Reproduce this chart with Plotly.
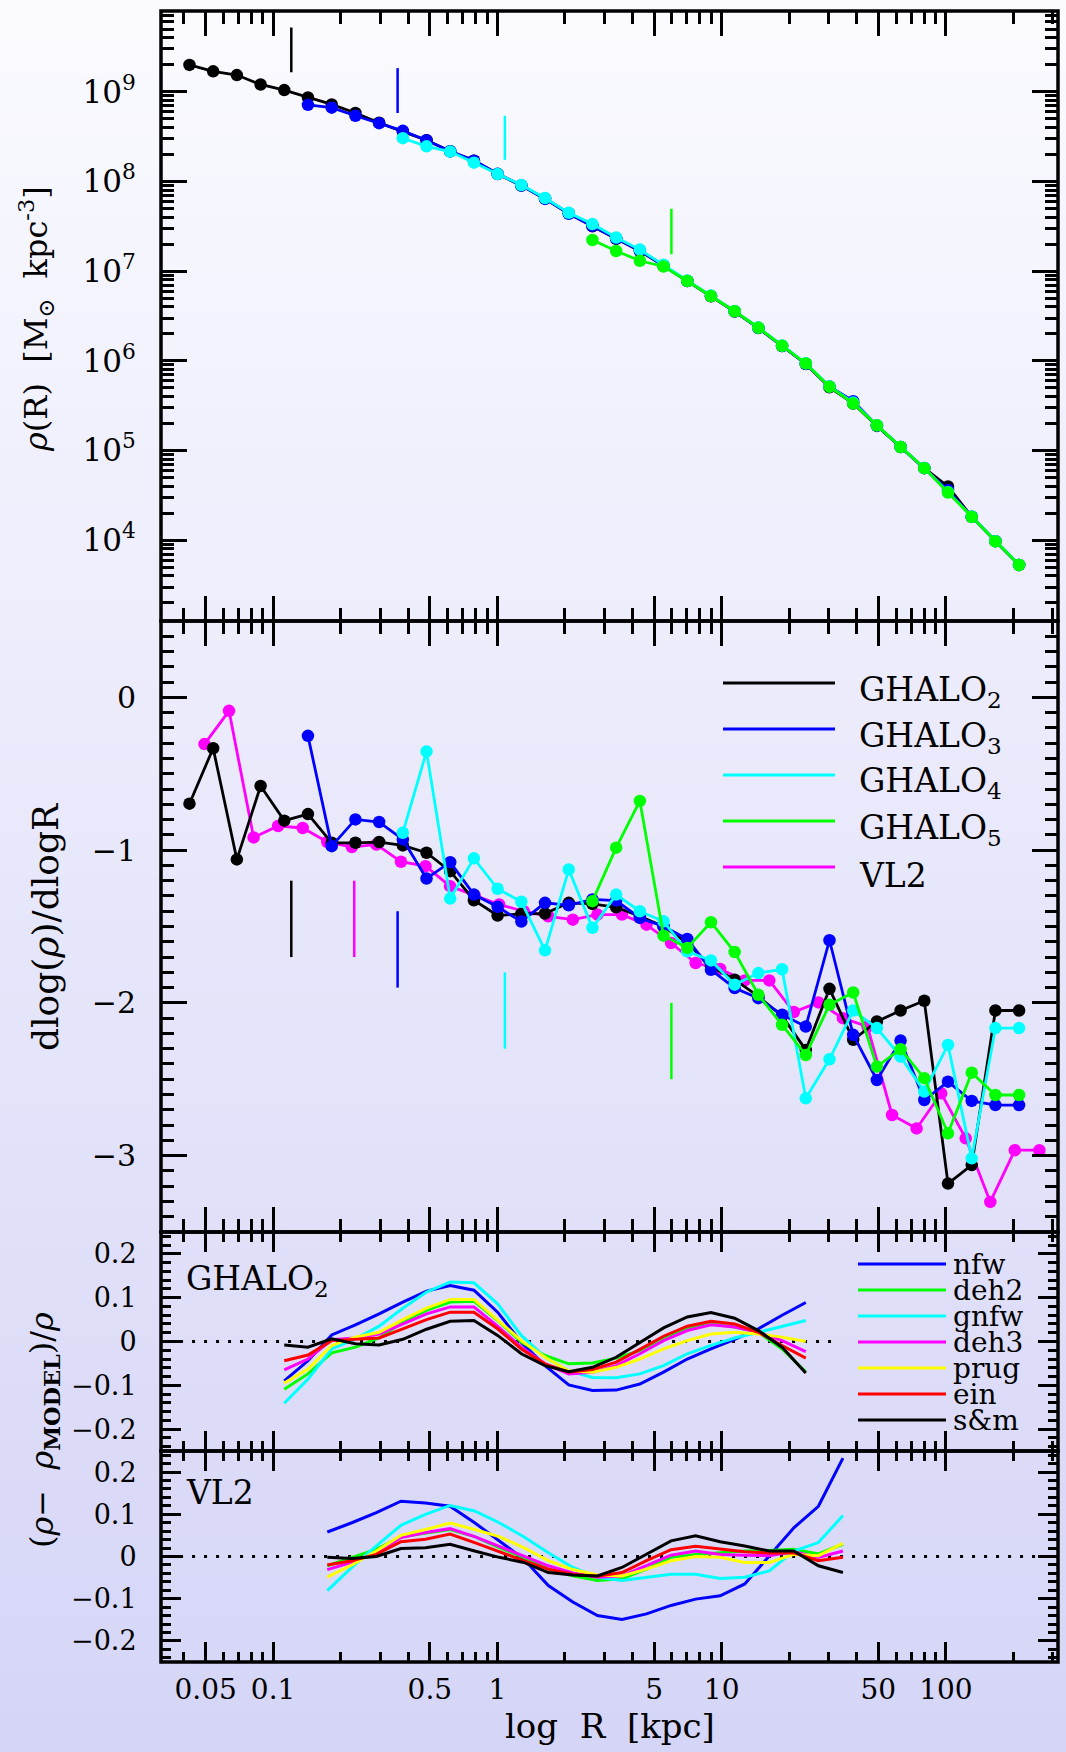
import numpy as np
import plotly.graph_objects as go

# ---------------------------------------------------------------- data
# radial bins [kpc]
r_ghalo = [0.04236, 0.05402, 0.06892, 0.08793, 0.1121, 0.1430, 0.1825, 0.2328, 0.2970, 0.3788,
           0.4831, 0.6162, 0.7860, 1.0025, 1.279, 1.631, 2.081, 2.654, 3.386, 4.319,
           5.508, 7.027, 8.963, 11.43, 14.58, 18.60, 23.73, 30.27, 38.61, 49.25,
           62.81, 80.12, 102.2, 130.4, 166.3, 212.1]
r_vl2 = [0.04943, 0.06359, 0.08185, 0.1053, 0.1355, 0.1744, 0.2244, 0.2886, 0.3715, 0.4781,
         0.6152, 0.7917, 1.0186, 1.311, 1.687, 2.170, 2.793, 3.594, 4.624, 5.950,
         7.656, 9.851, 12.68, 16.31, 20.99, 27.01, 34.75, 44.72, 57.54, 74.05,
         95.28, 122.6, 157.8, 203.0, 261.2]

# first radial bin used by each GHALO run
first_bin = {"GHALO2": 0, "GHALO3": 5, "GHALO4": 9, "GHALO5": 17}

# log10 density [Msun kpc^-3]
log_rho_ghalo2 = [9.299, 9.227, 9.186, 9.081, 9.018, 8.936, 8.859, 8.763, 8.654, 8.555,
                  8.459, 8.337, 8.232, 8.082, 7.955, 7.810, 7.646, 7.500, 7.360, 7.225,
                  7.060, 6.890, 6.720, 6.550, 6.365, 6.165, 5.965, 5.705, 5.525, 5.275,
                  5.040, 4.804, 4.600, 4.262, 3.990, 3.725]
log_rho_ghalo3 = [8.854, 8.822, 8.732, 8.650, 8.564, 8.459, 8.337, 8.232, 8.085, 7.955,
                  7.805, 7.640, 7.505, 7.365, 7.228, 7.062, 6.890, 6.722, 6.552, 6.368,
                  6.165, 5.968, 5.715, 5.550, 5.280, 5.040, 4.805, 4.560, 4.262, 3.990,
                  3.725]
log_rho_ghalo4 = [8.482, 8.391, 8.333, 8.209, 8.082, 7.960, 7.815, 7.650, 7.525, 7.375,
                  7.240, 7.070, 6.895, 6.728, 6.555, 6.372, 6.170, 5.972, 5.715, 5.535,
                  5.282, 5.040, 4.805, 4.535, 4.265, 3.990, 3.725]
log_rho_ghalo5 = [7.347, 7.225, 7.116, 7.052, 6.890, 6.722, 6.553, 6.370, 6.167, 5.971,
                  5.712, 5.525, 5.281, 5.040, 4.804, 4.532, 4.259, 3.987, 3.724]

# logarithmic slope dlog(rho)/dlogR
slope_ghalo2 = [-0.696, -0.333, -1.061, -0.580, -0.807, -0.764, -0.952, -0.952, -0.947, -0.969,
                -1.017, -1.138, -1.328, -1.428, -1.418, -1.415, -1.345, -1.352, -1.374, -1.433,
                -1.500, -1.608, -1.761, -1.848, -1.958, -2.085, -2.308, -1.908, -2.242, -2.122,
                -2.050, -1.986, -3.183, -3.062, -2.050, -2.050]
slope_ghalo3 = [-0.252, -0.974, -0.799, -0.816, -0.930, -1.186, -1.079, -1.291, -1.371, -1.468,
                -1.345, -1.361, -1.323, -1.330, -1.444, -1.499, -1.582, -1.783, -1.903, -1.969,
                -2.078, -2.155, -1.590, -2.209, -2.505, -2.247, -2.636, -2.516, -2.642, -2.669,
                -2.669]
slope_ghalo4 = [-0.886, -0.354, -1.317, -1.054, -1.253, -1.338, -1.656, -1.127, -1.509, -1.291,
                -1.400, -1.466, -1.663, -1.722, -1.881, -1.805, -1.780, -2.625, -2.369, -2.050,
                -2.165, -2.352, -2.581, -2.275, -3.018, -2.165, -2.165]
slope_ghalo5 = [-1.334, -0.984, -0.678, -1.560, -1.640, -1.472, -1.667, -1.947, -2.144, -2.341,
                -2.012, -1.932, -2.417, -2.303, -2.493, -2.854, -2.457, -2.603, -2.603]
slope_vl2 = [-0.306, -0.088, -0.917, -0.842, -0.855, -0.947, -0.980, -0.963, -1.076, -1.105,
             -1.236, -1.297, -1.356, -1.400, -1.433, -1.455, -1.422, -1.422, -1.488, -1.608,
             -1.739, -1.778, -1.853, -1.853, -2.060, -1.997, -2.100, -2.155, -2.734, -2.822,
             -2.592, -2.887, -3.303, -2.964, -2.964]

# convergence radii [kpc] and the extent of their tick marks
conv_r = {"GHALO2": 0.1205, "GHALO3": 0.359, "GHALO4": 1.08, "GHALO5": 5.97, "VL2": 0.230}
conv_logrho = {"GHALO2": (9.217, 9.716), "GHALO3": (8.763, 9.263),
               "GHALO4": (8.241, 8.732), "GHALO5": (7.188, 7.696)}
conv_slope = {"GHALO2": (-1.70, -1.20), "VL2": (-1.70, -1.20), "GHALO3": (-1.90, -1.40),
              "GHALO4": (-2.30, -1.80), "GHALO5": (-2.50, -2.00)}

# fractional residuals (rho - rho_model)/rho
res_bins_ghalo2 = (4, 27)   # slice of r_ghalo
res_bins_vl2 = (5, 27)      # slice of r_vl2
models = ["nfw", "deh2", "gnfw", "deh3", "prug", "ein", "s&m"]
res_ghalo2 = {
    "nfw":  [-0.090, -0.044, 0.015, 0.038, 0.063, 0.090, 0.115, 0.128, 0.117, 0.067, -0.002, -0.055,
             -0.099, -0.112, -0.111, -0.097, -0.070, -0.040, -0.017, 0.005, 0.029, 0.060, 0.089],
    "deh2": [-0.109, -0.074, -0.026, -0.013, 0.008, 0.044, 0.071, 0.090, 0.092, 0.048, -0.001, -0.032,
             -0.051, -0.049, -0.038, -0.021, 0.008, 0.029, 0.040, 0.033, 0.021, -0.017, -0.069],
    "gnfw": [-0.141, -0.086, -0.017, 0.006, 0.035, 0.076, 0.113, 0.136, 0.134, 0.086, 0.014, -0.036,
             -0.067, -0.082, -0.083, -0.074, -0.055, -0.028, -0.009, 0.008, 0.021, 0.034, 0.048],
    "deh3": [-0.065, -0.040, 0.004, 0.008, 0.017, 0.040, 0.063, 0.079, 0.079, 0.035, -0.013, -0.051,
             -0.074, -0.070, -0.055, -0.028, 0.002, 0.025, 0.038, 0.033, 0.021, 0.002, -0.023],
    "prug": [-0.095, -0.063, -0.009, 0.010, 0.021, 0.050, 0.076, 0.096, 0.096, 0.050, 0.002, -0.036,
             -0.067, -0.070, -0.059, -0.040, -0.017, 0.002, 0.017, 0.021, 0.017, 0.010, 0.000],
    "ein":  [-0.044, -0.031, 0.002, 0.005, 0.008, 0.029, 0.050, 0.067, 0.067, 0.029, -0.017, -0.051,
             -0.070, -0.064, -0.047, -0.018, 0.012, 0.035, 0.046, 0.040, 0.021, -0.009, -0.038],
    "s&m":  [-0.008, -0.013, 0.006, -0.005, -0.008, 0.005, 0.028, 0.046, 0.048, 0.014, -0.028, -0.055,
             -0.069, -0.059, -0.036, -0.002, 0.031, 0.056, 0.066, 0.053, 0.025, -0.013, -0.072],
}
res_vl2 = {
    "nfw":  [0.058, 0.080, 0.104, 0.131, 0.127, 0.119, 0.080, 0.037, -0.006, -0.069, -0.108,
             -0.140, -0.149, -0.136, -0.116, -0.101, -0.093, -0.065, 0.002, 0.068, 0.119, 0.233],
    "deh2": [-0.022, -0.002, 0.017, 0.047, 0.055, 0.064, 0.047, 0.021, -0.002, -0.030, -0.046,
             -0.057, -0.053, -0.030, -0.002, 0.005, 0.009, 0.013, 0.014, 0.017, 0.006, 0.029],
    "gnfw": [-0.081, -0.026, 0.025, 0.074, 0.100, 0.121, 0.108, 0.080, 0.047, 0.009, -0.026,
             -0.049, -0.057, -0.049, -0.042, -0.042, -0.052, -0.049, -0.034, 0.013, 0.033, 0.097],
    "deh3": [-0.031, -0.014, 0.008, 0.045, 0.057, 0.066, 0.047, 0.024, 0.002, -0.022, -0.039,
             -0.049, -0.046, -0.022, 0.003, 0.013, 0.005, 0.003, 0.002, 0.011, -0.002, 0.013],
    "prug": [-0.049, -0.020, 0.013, 0.050, 0.064, 0.079, 0.064, 0.047, 0.021, -0.010, -0.031,
             -0.044, -0.046, -0.030, -0.010, 0.000, -0.002, -0.014, -0.014, 0.005, 0.002, 0.031],
    "ein":  [-0.020, -0.010, 0.005, 0.035, 0.041, 0.053, 0.033, 0.011, -0.010, -0.030, -0.042,
             -0.047, -0.038, -0.010, 0.016, 0.024, 0.017, 0.011, 0.008, 0.009, -0.010, -0.002],
    "s&m":  [-0.002, -0.005, 0.000, 0.019, 0.021, 0.029, 0.013, -0.002, -0.014, -0.038, -0.044,
             -0.046, -0.026, 0.005, 0.037, 0.049, 0.035, 0.025, 0.013, 0.013, -0.022, -0.038],
}
zero_line_span = {"GHALO2": (0.034, 31.6), "VL2": (0.034, 310.0)}

x_tickvals = [0.05, 0.1, 0.5, 1, 5, 10, 50, 100]
x_ticktext = ["0.05", "0.1", "0.5", "1", "5", "10", "50", "100"]

# ---------------------------------------------------------------- style
halo_color = {"GHALO2": "#000000", "GHALO3": "#0000ff", "GHALO4": "#00ffff",
              "GHALO5": "#00ff00", "VL2": "#ff00ff"}
halo_label = {"GHALO2": "GHALO<sub>2</sub>", "GHALO3": "GHALO<sub>3</sub>",
              "GHALO4": "GHALO<sub>4</sub>", "GHALO5": "GHALO<sub>5</sub>", "VL2": "VL2"}
model_color = {"nfw": "#0000ff", "deh2": "#00ff00", "gnfw": "#00ffff", "deh3": "#ff00ff",
               "prug": "#ffff00", "ein": "#ff0000", "s&m": "#000000"}

FONT = "DejaVu Serif"
W, H = 1066, 1752


def fx(px):
    return px / W


def fy(py):
    return 1 - py / H


x_dom = [fx(161), fx(1058)]
dom = {1: [fy(621), fy(11)], 2: [fy(1232), fy(621)], 3: [fy(1451), fy(1232)], 4: [fy(1662), fy(1451)]}

fig = go.Figure()


def add_series(x, y, color, xa, ya, markers=True, width=2.8, dash=None):
    fig.add_trace(go.Scatter(
        x=x, y=y, xaxis=xa, yaxis=ya, showlegend=False, hoverinfo="skip",
        mode="lines+markers" if markers else "lines",
        line=dict(color=color, width=width, dash=dash),
        marker=dict(size=12.5, color=color, line=dict(width=0)),
    ))


# density profiles
rho_sets = {"GHALO2": log_rho_ghalo2, "GHALO3": log_rho_ghalo3,
            "GHALO4": log_rho_ghalo4, "GHALO5": log_rho_ghalo5}
for name in ["GHALO2", "GHALO3", "GHALO4", "GHALO5"]:
    vals = rho_sets[name]
    i0 = first_bin[name]
    add_series(r_ghalo[i0:i0 + len(vals)], 10 ** np.array(vals), halo_color[name], "x", "y")
for name in ["GHALO2", "GHALO3", "GHALO4", "GHALO5"]:
    lo, hi = conv_logrho[name]
    add_series([conv_r[name]] * 2, [10 ** lo, 10 ** hi], halo_color[name], "x", "y",
               markers=False, width=2.5)

# logarithmic slopes
slope_sets = {"GHALO2": slope_ghalo2, "GHALO3": slope_ghalo3,
              "GHALO4": slope_ghalo4, "GHALO5": slope_ghalo5}
add_series(r_vl2[:len(slope_vl2)], slope_vl2, halo_color["VL2"], "x2", "y2")
for name in ["GHALO2", "GHALO3", "GHALO4", "GHALO5"]:
    vals = slope_sets[name]
    i0 = first_bin[name]
    add_series(r_ghalo[i0:i0 + len(vals)], vals, halo_color[name], "x2", "y2")
for name in ["GHALO2", "VL2", "GHALO3", "GHALO4", "GHALO5"]:
    lo, hi = conv_slope[name]
    add_series([conv_r[name]] * 2, [lo, hi], halo_color[name], "x2", "y2",
               markers=False, width=2.5)

# residuals of the model fits
for key, rr, res, (a, b), xa, ya in [
        ("GHALO2", r_ghalo, res_ghalo2, res_bins_ghalo2, "x3", "y3"),
        ("VL2", r_vl2, res_vl2, res_bins_vl2, "x4", "y4")]:
    z0, z1 = zero_line_span[key]
    add_series([z0, z1], [0, 0], "#000000", xa, ya, markers=False, width=3, dash="3px,9px")
    for m in models:
        add_series(rr[a:b], res[m], model_color[m], xa, ya, markers=False, width=3)

# ---------------------------------------------------------------- axes
def x_axis(n, show_labels, major_len, minor_len):
    return dict(
        type="log", range=[-1.5, 2.5], domain=x_dom, anchor="y" if n == 1 else f"y{n}",
        showline=True, linecolor="black", linewidth=1, mirror="allticks",
        ticks="inside", ticklen=major_len, tickwidth=2.5, tickcolor="black",
        tickmode="array", tickvals=x_tickvals, ticktext=x_ticktext,
        showticklabels=show_labels, ticklabelstandoff=2,
        tickfont=dict(family=FONT, size=28, color="black"),
        minor=dict(ticks="inside", ticklen=minor_len, tickwidth=2.5, tickcolor="black",
                   dtick="D1", showgrid=False),
        showgrid=False, zeroline=False,
    )


def y_axis(n, **kw):
    base = dict(
        domain=dom[n], anchor="x" if n == 1 else f"x{n}",
        showline=True, linecolor="black", linewidth=1, mirror="allticks",
        ticks="inside", tickwidth=2.5, tickcolor="black",
        showgrid=False, zeroline=False, ticklabelstandoff=18,
    )
    base.update(kw)
    return base


layout = dict(
    width=W, height=H, margin=dict(l=0, r=0, t=0, b=0),
    paper_bgcolor="rgb(214,214,247)", plot_bgcolor="rgba(0,0,0,0)",
    font=dict(family=FONT, color="black"),
    xaxis=x_axis(1, False, 25, 13),
    xaxis2=x_axis(2, False, 25, 13),
    xaxis3=x_axis(3, False, 20, 10),
    xaxis4=x_axis(4, True, 20, 10),
    yaxis=y_axis(1, type="log", range=[3.1, 9.9], ticklen=26,
                 tickmode="array", tickvals=[1e4, 1e5, 1e6, 1e7, 1e8, 1e9],
                 ticktext=[f"10<sup>{k}</sup>" for k in range(4, 10)],
                 tickfont=dict(family=FONT, size=31, color="black"),
                 minor=dict(ticks="inside", ticklen=13, tickwidth=2.5, tickcolor="black",
                            dtick="D1", showgrid=False)),
    yaxis2=y_axis(2, range=[-3.5, 0.5], ticklen=26, tickmode="array",
                  tickvals=[0, -1, -2, -3], ticktext=["0", "\u22121", "\u22122", "\u22123"],
                  tickfont=dict(family=FONT, size=30, color="black"),
                  minor=dict(ticks="inside", ticklen=13, tickwidth=2.5, tickcolor="black",
                             dtick=0.1, showgrid=False)),
)
for n in (3, 4):
    layout[f"yaxis{n}"] = y_axis(
        n, range=[-0.25, 0.25], ticklen=20, tickmode="array",
        tickvals=[-0.2, -0.1, 0, 0.1, 0.2],
        ticktext=["\u22120.2", "\u22120.1", "0", "0.1", "0.2"],
        tickfont=dict(family=FONT, size=27, color="black"),
        minor=dict(ticks="inside", ticklen=10, tickwidth=2.5, tickcolor="black",
                   dtick=0.02, showgrid=False))
fig.update_layout(**layout)

# ---------------------------------------------------------------- background gradient
shapes = []
n_bands = 90
top_rgb = np.array([250, 250, 255])
bot_rgb = np.array([213, 213, 247])
for k in range(n_bands):
    t = k / (n_bands - 1)
    c = np.round(top_rgb + (bot_rgb - top_rgb) * t).astype(int)
    shapes.append(dict(type="rect", xref="paper", yref="paper", x0=0, x1=1,
                       y0=1 - (k + 1.05) / n_bands, y1=1 - k / n_bands,
                       fillcolor=f"rgb({c[0]},{c[1]},{c[2]})", line=dict(width=0),
                       layer="below"))

# panel frames (shared edges drawn once)
for n in (1, 2, 3, 4):
    shapes.append(dict(type="rect", xref="paper", yref="paper",
                       x0=x_dom[0], x1=x_dom[1], y0=dom[n][0], y1=dom[n][1],
                       line=dict(color="black", width=3.5), fillcolor="rgba(0,0,0,0)",
                       layer="above"))

annotations = []

# legend for the simulations
for j, name in enumerate(["GHALO2", "GHALO3", "GHALO4", "GHALO5", "VL2"]):
    ypx = 683 + j * 46
    shapes.append(dict(type="line", xref="paper", yref="paper", x0=fx(723), x1=fx(835),
                       y0=fy(ypx), y1=fy(ypx), line=dict(color=halo_color[name], width=3)))
    annotations.append(dict(xref="paper", yref="paper", x=fx(857), y=fy(ypx + 8),
                            xanchor="left", yanchor="middle", showarrow=False,
                            text=halo_label[name], font=dict(family=FONT, size=33)))

# legend for the fitting formulae
for j, m in enumerate(models):
    ypx = 1264 + j * 26
    shapes.append(dict(type="line", xref="paper", yref="paper", x0=fx(858), x1=fx(946),
                       y0=fy(ypx), y1=fy(ypx), line=dict(color=model_color[m], width=3)))
    annotations.append(dict(xref="paper", yref="paper", x=fx(951), y=fy(ypx),
                            xanchor="left", yanchor="middle", showarrow=False,
                            text=m.replace("&", "&amp;"), font=dict(family=FONT, size=28)))

# panel labels
annotations.append(dict(xref="paper", yref="paper", x=fx(184), y=fy(1280), xanchor="left",
                        yanchor="middle", showarrow=False, text="GHALO<sub>2</sub>",
                        font=dict(family=FONT, size=33)))
annotations.append(dict(xref="paper", yref="paper", x=fx(184), y=fy(1492), xanchor="left",
                        yanchor="middle", showarrow=False, text="VL2",
                        font=dict(family=FONT, size=33)))

# axis titles
annotations.append(dict(xref="paper", yref="paper", x=fx(36), y=fy(319), textangle=-90,
                        showarrow=False, xanchor="center", yanchor="middle",
                        text="<i>\u03c1</i>(R)  [M<sub>\u2299</sub>  kpc<sup>-3</sup>]",
                        font=dict(family=FONT, size=32)))
annotations.append(dict(xref="paper", yref="paper", x=fx(46), y=fy(927), textangle=-90,
                        showarrow=False, xanchor="center", yanchor="middle",
                        text="dlog(<i>\u03c1</i>)/dlogR", font=dict(family=FONT, size=36)))
annotations.append(dict(xref="paper", yref="paper", x=fx(44), y=fy(1430), textangle=-90,
                        showarrow=False, xanchor="center", yanchor="middle",
                        text="(<i>\u03c1</i>\u2212  <i>\u03c1</i><sub><b>MODEL</b></sub>)/<i>\u03c1</i>",
                        font=dict(family=FONT, size=32)))
annotations.append(dict(xref="paper", yref="paper", x=fx(610), y=fy(1726),
                        showarrow=False, xanchor="center", yanchor="middle",
                        text="log  R  [kpc]", font=dict(family=FONT, size=34)))

fig.update_layout(shapes=shapes, annotations=annotations)
fig.write_html("out.html")
